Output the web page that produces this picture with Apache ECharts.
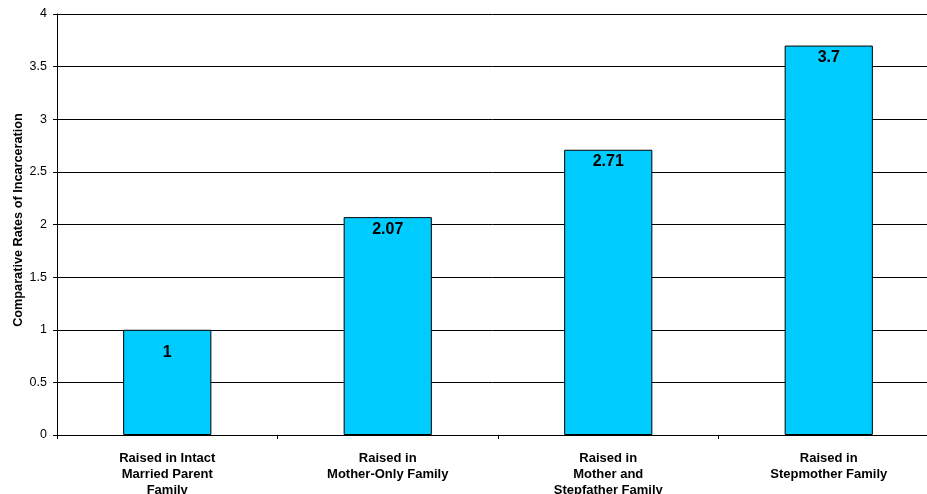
<!DOCTYPE html>
<html>
<head>
<meta charset="utf-8">
<script src="https://cdn.jsdelivr.net/npm/echarts@6/dist/echarts.min.js"></script>
<style>
  html, body { margin: 0; padding: 0; background: #fff; }
  #chart { width: 927px; height: 494px; }
</style>
</head>
<body>
<div id="chart"></div>
<script>
// Family structure categories and incarceration rates relative to intact families
var categories = [
  'Raised in Intact\nMarried Parent\nFamily',
  'Raised in\nMother-Only Family',
  'Raised in\nMother and\nStepfather Family',
  'Raised in\nStepmother Family'
];
var rates = [1, 2.07, 2.71, 3.7];
var yTicks = [0, 0.5, 1, 1.5, 2, 2.5, 3, 3.5, 4];

var font = '"Liberation Sans", Arial, sans-serif';

// the shortest bar carries its value label a little lower
var barData = rates.map(function (v, i) {
  return i === 0 ? { value: v, label: { distance: 15 } } : v;
});

var chart = echarts.init(document.getElementById('chart'), null, { renderer: 'canvas' });
chart.setOption({
  animation: false,
  grid: { left: 57, top: 14, bottom: 59, width: 882, outerBoundsMode: 'none', containLabel: false },
  xAxis: {
    type: 'category',
    data: categories,
    axisLine: { lineStyle: { color: '#000', width: 1 } },
    axisTick: { show: true, alignWithLabel: false, length: 4, lineStyle: { color: '#000' } },
    axisLabel: {
      interval: 0, margin: 15, color: '#000', fontFamily: font,
      fontWeight: 'bold', fontSize: 13, lineHeight: 16
    }
  },
  yAxis: {
    type: 'value',
    min: yTicks[0], max: yTicks[yTicks.length - 1], interval: 0.5,
    name: 'Comparative Rates of Incarceration',
    nameLocation: 'middle', nameGap: 32, nameRotate: 90, nameMoveOverlap: false,
    nameTextStyle: { color: '#000', fontFamily: font, fontWeight: 'bold', fontSize: 12.7, padding: [0, 0, 0, 9] },
    axisLine: { show: true, lineStyle: { color: '#000', width: 1 } },
    axisTick: { show: true, length: 4, lineStyle: { color: '#000' } },
    axisLabel: { color: '#000', fontFamily: font, fontSize: 12.5, margin: 10 },
    splitLine: { show: true, lineStyle: { color: '#000', width: 1 } }
  },
  series: [{
    type: 'bar',
    data: barData,
    barWidth: '40%',
    itemStyle: { color: '#00CCFF', borderColor: '#000', borderWidth: 1 },
    label: {
      show: true, position: 'insideTop', distance: 4,
      color: '#000', fontFamily: font, fontWeight: 'bold', fontSize: 16
    }
  }]
});
</script>
</body>
</html>
